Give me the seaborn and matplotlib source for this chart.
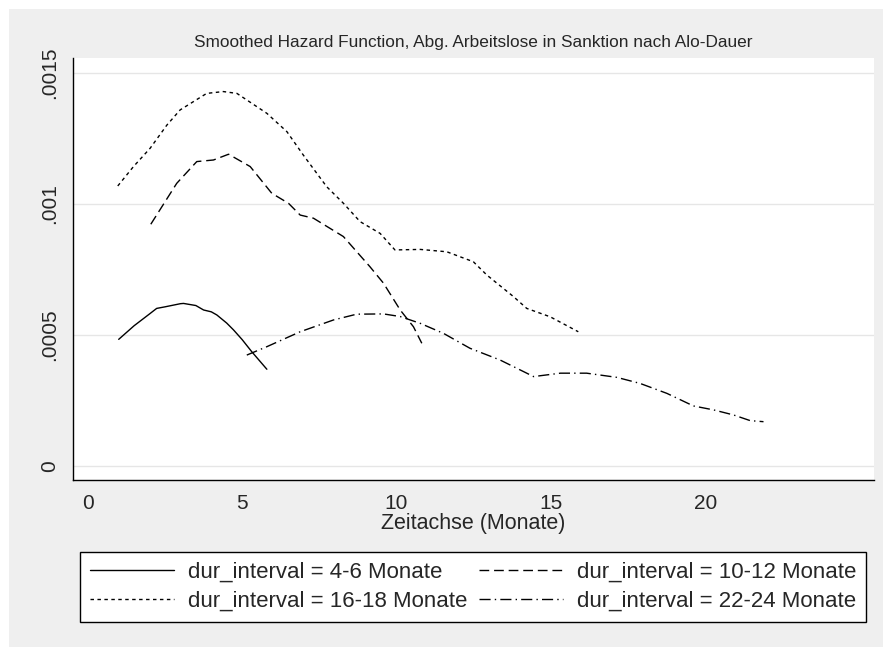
import numpy as np
import pandas as pd
import matplotlib
matplotlib.use("Agg")
import matplotlib.pyplot as plt
from matplotlib.patches import Rectangle
from matplotlib.lines import Line2D
import seaborn as sns

# Smoothed hazard estimates
x_4_6 = [1.0, 1.5, 2.0, 2.23, 2.5, 3.0, 3.1, 3.5, 3.75, 4.0, 4.18, 4.5, 4.72, 5.0, 5.31, 5.5, 5.8]
y_4_6 = [0.000483, 0.000535, 0.000580, 0.000601, 0.000607, 0.000619, 0.000620, 0.000612,
         0.000595, 0.000588, 0.000576, 0.000545, 0.000519, 0.000482, 0.000436, 0.000410, 0.000369]

x_10_12 = [2.04, 2.88, 3.53, 4.07, 4.56, 5.26, 5.96, 6.50, 6.88, 7.31, 8.28, 9.14, 9.58,
           10.12, 10.55, 10.82]
y_10_12 = [0.000922, 0.001078, 0.001161, 0.001167, 0.001189, 0.001142, 0.001040, 0.001002,
           0.000957, 0.000945, 0.000875, 0.000760, 0.000697, 0.000595, 0.000531, 0.000468]

x_16_18 = [0.97, 1.48, 2.02, 2.56, 2.99, 3.85, 4.39, 4.83, 5.80, 6.45, 6.98, 7.74, 8.28,
           8.82, 9.47, 9.95, 10.77, 11.63, 12.49, 12.93, 13.79, 14.22, 14.98, 15.89]
y_16_18 = [0.001068, 0.001142, 0.001212, 0.001300, 0.001358, 0.001421, 0.001428, 0.001421,
           0.001345, 0.001275, 0.001186, 0.001065, 0.001002, 0.000932, 0.000887, 0.000824,
           0.000826, 0.000817, 0.000779, 0.000728, 0.000646, 0.000601, 0.000569, 0.000512]

x_22_24 = [5.15, 5.80, 6.88, 7.96, 8.71, 9.58, 10.12, 10.77, 11.52, 12.38, 13.36, 14.22,
           14.44, 15.31, 16.16, 17.14, 17.89, 18.76, 19.62, 20.27, 20.91, 21.46, 21.89]
y_22_24 = [0.000423, 0.000455, 0.000512, 0.000557, 0.000579, 0.000580, 0.000570, 0.000544,
           0.000506, 0.000449, 0.000404, 0.000354, 0.000341, 0.000354, 0.000354, 0.000338,
           0.000315, 0.000277, 0.000229, 0.000214, 0.000195, 0.000173, 0.000169]

groups = ["4-6 Monate", "10-12 Monate", "16-18 Monate", "22-24 Monate"]
x_ticks = [0, 1, 5, 10, 15, 20, 25]
x_tick_labels = ["0", "", "5", "10", "15", "20", ""]
y_ticks = [0, 0.0005, 0.001, 0.0015]
y_tick_labels = ["0", ".0005", ".001", ".0015"]

df = pd.concat([
    pd.DataFrame({"t": x_4_6, "h": y_4_6, "grp": groups[0]}),
    pd.DataFrame({"t": x_10_12, "h": y_10_12, "grp": groups[1]}),
    pd.DataFrame({"t": x_16_18, "h": y_16_18, "grp": groups[2]}),
    pd.DataFrame({"t": x_22_24, "h": y_22_24, "grp": groups[3]}),
], ignore_index=True)

sns.set_style("white")
plt.rcParams["font.family"] = ["Liberation Sans", "DejaVu Sans"]

fig = plt.figure(figsize=(8.85, 6.47), dpi=100)
fig.patch.set_facecolor("white")
fig.patches.append(Rectangle((9 / 885, 0), 874 / 885, 638 / 647, transform=fig.transFigure,
                             facecolor="#efefef", edgecolor="none", zorder=-10))

ax = fig.add_axes([72.7 / 885, 1 - 480 / 647, 801.3 / 885, 422 / 647])

dashes = {
    groups[0]: "",
    groups[1]: (7, 3.5),
    groups[2]: (2.5, 2.5),
    groups[3]: (8, 3, 1, 3),
}
sns.lineplot(data=df, x="t", y="h", hue="grp", style="grp", dashes=dashes,
             palette=["black"] * 4, linewidth=1.0, sort=False, estimator=None,
             legend=False, ax=ax)

ax.set_xlim(-0.49, 25.47)
ax.set_ylim(-0.0000534, 0.001556)
ax.set_xticks(x_ticks)
ax.set_xticklabels(x_tick_labels, fontsize=15)
ax.set_yticks(y_ticks)
ax.set_yticklabels(y_tick_labels, fontsize=15, rotation=90, va="center")
ax.tick_params(axis="both", direction="out", length=6, width=1, color="black", pad=4)
ax.grid(axis="y", color="#e6e6e6", linewidth=1)
ax.set_axisbelow(True)
for side in ["top", "right"]:
    ax.spines[side].set_visible(False)
for side in ["left", "bottom"]:
    ax.spines[side].set_color("black")
    ax.spines[side].set_linewidth(1)
ax.set_xlabel("Zeitachse (Monate)", fontsize=15.5, labelpad=0)
ax.set_ylabel("")
fig.text(473 / 885, 1 - 42 / 647, "Smoothed Hazard Function, Abg. Arbeitslose in Sanktion nach Alo-Dauer",
         ha="center", va="center", fontsize=12.4)

# legend: Stata fills row-wise, matplotlib column-wise
order = [0, 2, 1, 3]
handles = []
labels = []
for i in order:
    d = dashes[groups[i]]
    ls = "-" if d == "" else (0, d)
    handles.append(Line2D([], [], color="black", linewidth=1.0, linestyle=ls))
    labels.append("dur_interval = " + groups[i])
leg = fig.legend(handles, labels, ncol=2, loc="upper left",
                 bbox_to_anchor=(80 / 885, 1 - 626 / 647, 786 / 885, 74 / 647),
                 mode="expand", fontsize=16, handlelength=3.8, handletextpad=0.6,
                 columnspacing=1.0, borderpad=0.45, labelspacing=0.35, borderaxespad=0,
                 frameon=True, fancybox=False, edgecolor="black", framealpha=1)
leg.get_frame().set_linewidth(1)

fig.savefig("out.png", dpi=100)
